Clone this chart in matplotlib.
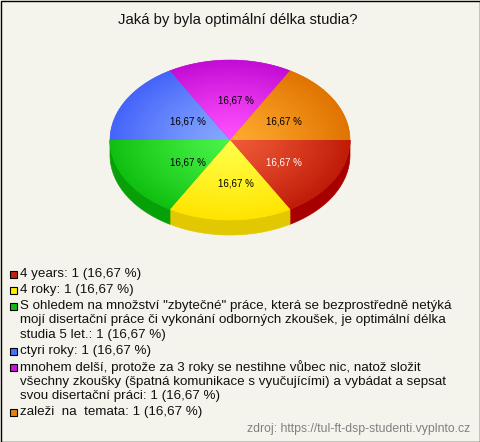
import textwrap
import numpy as np
import matplotlib.pyplot as plt
from matplotlib.colors import to_rgb
from matplotlib.patches import Polygon, Rectangle

plt.rcParams['font.family'] = ['Liberation Sans', 'DejaVu Sans']

title = 'Jaká by byla optimální délka studia?'
source = 'zdroj: https://tul-ft-dsp-studenti.vyplnto.cz'
answers = [
    '4 years',
    '4 roky',
    'S ohledem na množství "zbytečné" práce, která se bezprostředně netýká '
    'mojí disertační práce či vykonání odborných zkoušek, je optimální délka studia 5 let.',
    'ctyri roky',
    'mnohem delší, protože za 3 roky se nestihne vůbec nic, natož složit '
    'všechny zkoušky (špatná komunikace s vyučujícími) a vybádat a sepsat svou disertační práci',
    'zaleži  na  temata',
]
counts = [1, 1, 1, 1, 1, 1]

# top face gradient (centre -> rim), side colour, legend marker, label colour
light = ['#f05a38', '#ffff48', '#48f448', '#88a8ff', '#ff50ff', '#ffaa30']
dark = ['#c01c08', '#ffe400', '#10c010', '#4464fa', '#c40cd4', '#e07400']
side = ['#a80000', '#e2c800', '#08a008', '#3050d0', '#a000b0', '#c06000']
marker = ['#c42010', '#ffee00', '#10c010', '#4870ff', '#d010e0', '#e88010']
label_col = ['white', 'black', 'black', 'black', 'black', 'black']

bg = '#f5f4ec'
cx, cy, rx, ry, depth = 230, 140, 120, 80, 15

fig = plt.figure(figsize=(4.8, 4.42), dpi=100, facecolor=bg)
ax = fig.add_axes([0, 0, 1, 1])
ax.set_facecolor(bg)
ax.axis('off')


def pt(theta, k=1.0, dz=0.0):
    t = np.radians(theta)
    return cx + k * rx * np.cos(t), cy - k * ry * np.sin(t) + dz


total = sum(counts)
ends = -360 * np.cumsum(counts) / total
starts = np.r_[0, ends[:-1]]

# sides (front half only)
for i in range(len(counts)):
    lo, hi = max(ends[i], -180), min(starts[i], 0)
    if lo >= hi:
        continue
    th = np.linspace(hi, lo, 60)
    xs, ys = pt(th)
    poly = np.r_[np.c_[xs, ys], np.c_[xs[::-1], ys[::-1] + depth]]
    ax.add_patch(Polygon(poly, closed=True, fc=side[i], ec=side[i], lw=0.5, zorder=1))

# top faces with radial gradient
x0, x1, y0, y1 = cx - rx - 2, cx + rx + 2, cy - ry - 2, cy + ry + 2
gx, gy = np.meshgrid(np.linspace(x0, x1, 260), np.linspace(y0, y1, 180))
r = np.clip(np.hypot((gx - cx) / rx, (gy - cy) / ry), 0, 1) ** 1.2
for i in range(len(counts)):
    th = np.linspace(starts[i], ends[i], 60)
    xs, ys = pt(th)
    poly = Polygon(np.r_[[[cx, cy]], np.c_[xs, ys]], closed=True,
                   fc=dark[i], ec=dark[i], lw=0.4, zorder=2)
    ax.add_patch(poly)
    c0 = np.array(to_rgb(light[i]))
    c1 = np.array(to_rgb(dark[i]))
    img = c0 + (c1 - c0) * r[..., None]
    im = ax.imshow(img, extent=(x0, x1, y1, y0), origin='upper',
                   aspect='auto', interpolation='bilinear', zorder=3)
    im.set_clip_path(poly)

    mid = (starts[i] + ends[i]) / 2
    lx = cx + 6 + 0.46 * rx * np.cos(np.radians(mid))
    ly = cy + 2 - 0.52 * ry * np.sin(np.radians(mid))
    pct = f'{100 * counts[i] / total:.2f}'.replace('.', ',')
    ax.text(lx, ly, f'{pct} %', ha='center', va='center', fontsize=7,
            color=label_col[i], zorder=5)

ax.set_xlim(0, 480)
ax.set_ylim(442, 0)

ax.text(238, 20, title, ha='center', va='center', fontsize=10.7, color='#111111')

# legend
y = 274
for i, name in enumerate(answers):
    pct = f'{100 * counts[i] / total:.2f}'.replace('.', ',')
    lines = textwrap.wrap(f'{name}: {counts[i]} ({pct} %)', 72)
    ax.add_patch(Rectangle((10, y - 3.5), 7, 7, fc=marker[i], ec='black', lw=0.8))
    for j, line in enumerate(lines):
        ax.text(20, y + 14.5 * j, line, ha='left', va='center', fontsize=9.6,
                color='#111111')
    y += 16 + 14.5 * (len(lines) - 1)

ax.text(470, 429, source, ha='right', va='center', fontsize=8.8, color='#808080')

ax.add_patch(Rectangle((0.5, 0.5), 479, 441, fc='none', ec='black', lw=1, zorder=6))

fig.savefig('out.png', dpi=100, facecolor=bg)
